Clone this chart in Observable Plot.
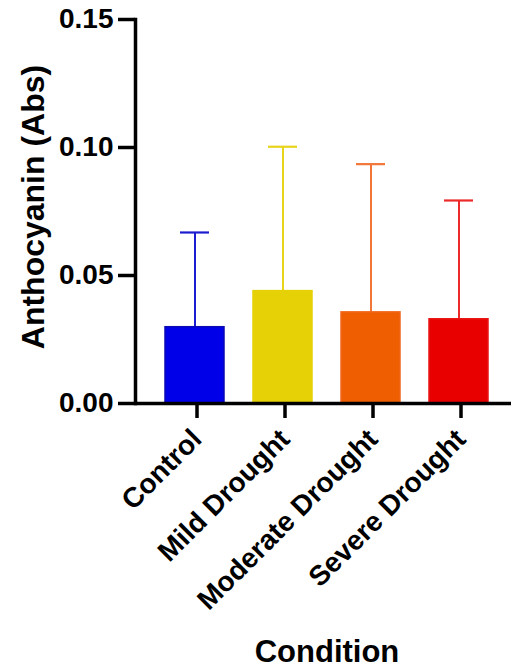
<!DOCTYPE html>
<html>
<head>
<meta charset="utf-8">
<script src="https://cdn.jsdelivr.net/npm/d3@7"></script>
<script src="https://cdn.jsdelivr.net/npm/@observablehq/plot@0.6"></script>
<style>
  html, body { margin: 0; padding: 0; background: #fff; }
  #chart svg { display: block; }
</style>
</head>
<body>
<div id="chart"></div>
<script>
// Anthocyanin absorbance by drought treatment (mean with upper SD bar)
const conditions = ["Control", "Mild Drought", "Moderate Drought", "Severe Drought"];
const means = [0.0298, 0.0439, 0.0356, 0.0329];
const sds = [0.0370, 0.0564, 0.0579, 0.0464];
const barFills = ["#0000e8", "#e6d106", "#ef5e00", "#e80000"];
const barStrokes = ["#0a0ab4", "#e6d106", "#f0661a", "#ea1414"];
const errorColors = ["#1c1cd0", "#e8d41a", "#f27638", "#ec2a2a"];
const yTicks = [0, 0.05, 0.10, 0.15];
const yTitle = "Anthocyanin (Abs)";
const xTitle = "Condition";

const rows = conditions.map((c, i) => ({
  condition: c,
  mean: means[i],
  upper: means[i] + sds[i],
  fill: barFills[i],
  stroke: barStrokes[i],
  err: errorColors[i]
}));

const font = "'Liberation Sans', Arial, Helvetica, sans-serif";

const chart = Plot.plot({
  width: 511,
  height: 668,
  marginLeft: 135,
  marginRight: 0,
  marginTop: 19,
  marginBottom: 265,
  style: { fontFamily: font, fontWeight: "bold", color: "#000", background: "#fff" },
  x: { domain: conditions, range: [135, 518], paddingInner: 0.334, paddingOuter: 0.33, label: null },
  y: { domain: [0, 0.15], label: null },
  color: { type: "identity" },
  marks: [
    // error bar stems (drawn under the bars)
    Plot.ruleX(rows, { x: "condition", y1: "mean", y2: "upper", stroke: "err", strokeWidth: 2 }),
    Plot.barY(rows, { x: "condition", y: "mean", fill: "fill", stroke: "stroke", strokeWidth: 1.5 }),
    // error bar caps
    Plot.tickY(rows, { x: "condition", y: "upper", stroke: "err", strokeWidth: 2.2, insetLeft: 15, insetRight: 15 }),
    // axis lines
    Plot.ruleY([0], { stroke: "#000", strokeWidth: 3.5 }),
    Plot.frame({ anchor: "left", stroke: "#000", strokeWidth: 3.5 }),
    Plot.axisY({
      ticks: yTicks,
      tickFormat: d3.format(".2f"),
      tickSize: 17,
      tickPadding: 5,
      fontSize: 28,
      strokeWidth: 3.5,
      label: null
    }),
    Plot.axisX({
      tickSize: 15,
      tickRotate: -45,
      tickPadding: 16,
      dx: 2,
      fontSize: 28,
      strokeWidth: 3.5,
      label: null
    }),
    // axis titles
    Plot.text([yTitle], {
      frameAnchor: "left", dx: -102, dy: -4.5, rotate: -90,
      textAnchor: "middle", lineAnchor: "middle", fontSize: 32, fontWeight: "bold", fill: "#000"
    }),
    Plot.text([xTitle], {
      frameAnchor: "bottom", dx: 3.5, dy: 248.5,
      textAnchor: "middle", lineAnchor: "middle", fontSize: 31, fontWeight: "bold", fill: "#000"
    })
  ]
});

document.getElementById("chart").appendChild(chart);
</script>
</body>
</html>
